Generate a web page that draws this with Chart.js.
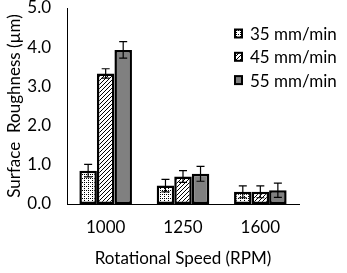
<!DOCTYPE html>
<html><head><meta charset="utf-8">
<script src="https://cdn.jsdelivr.net/npm/chart.js@4"></script>
<style>html,body{margin:0;padding:0;background:#fff}#wrap{width:347px;height:273px}</style>
</head><body><div id="wrap"><canvas id="c" width="347" height="273"></canvas></div>
<script>
const categories = ['1000', '1250', '1600'];
const seriesLabels = ['35 mm/min', '45 mm/min', '55 mm/min'];
const values35 = [0.85, 0.47, 0.31];
const values45 = [3.33, 0.70, 0.31];
const values55 = [3.93, 0.77, 0.35];
const errors35 = [0.16, 0.16, 0.15];
const errors45 = [0.12, 0.15, 0.15];
const errors55 = [0.21, 0.19, 0.18];
const yTicks = [0, 1, 2, 3, 4, 5];

function makePattern(kind) {
  const p = document.createElement('canvas');
  p.width = 4; p.height = 4;
  const g = p.getContext('2d');
  g.fillStyle = '#fff'; g.fillRect(0, 0, 4, 4);
  g.fillStyle = '#000';
  if (kind === 'dots') {
    g.fillRect(0, 0, 1, 1); g.fillRect(2, 2, 1, 1); g.fillRect(0, 2, 1, 1);
  } else {
    g.fillRect(3, 0, 1, 1); g.fillRect(2, 1, 1, 1); g.fillRect(1, 2, 1, 1); g.fillRect(0, 3, 1, 1);
  }
  return document.createElement('canvas').getContext('2d').createPattern(p, 'repeat');
}
const fills = [makePattern('dots'), makePattern('hatch'), '#808080'];
const errs = [errors35, errors45, errors55];
const FONT = 'Lato';
const FS = 17;

const errorBars = {
  id: 'errorBars',
  afterDatasetsDraw(chart) {
    const ctx = chart.ctx, y = chart.scales.y;
    ctx.save(); ctx.strokeStyle = '#000'; ctx.lineWidth = 1.2;
    chart.data.datasets.forEach((ds, di) => {
      chart.getDatasetMeta(di).data.forEach((bar, i) => {
        const v = ds.data[i], e = errs[di][i];
        const top = y.getPixelForValue(v + e), bot = y.getPixelForValue(v - e);
        const x = bar.x;
        ctx.beginPath();
        ctx.moveTo(x, top); ctx.lineTo(x, bot);
        ctx.moveTo(x - 4, top); ctx.lineTo(x + 4, top);
        ctx.moveTo(x - 4, bot); ctx.lineTo(x + 4, bot);
        ctx.stroke();
      });
    });
    ctx.restore();
  }
};
const customLegend = {
  id: 'customLegend',
  afterDraw(chart) {
    const ctx = chart.ctx;
    ctx.save();
    ctx.font = FS + 'px ' + FONT;
    ctx.textBaseline = 'middle';
    chart.data.datasets.forEach((ds, i) => {
      const cy = 33.5 + i * 23.3;
      ctx.fillStyle = fills[i];
      ctx.fillRect(235, cy - 4, 7, 8);
      ctx.strokeStyle = '#000'; ctx.lineWidth = 2;
      ctx.strokeRect(235, cy - 4, 7, 8);
      ctx.fillStyle = '#000';
      ctx.fillText(ds.label, 250, cy + 1);
    });
    ctx.restore();
  }
};

new Chart(document.getElementById('c'), {
  type: 'bar',
  data: {
    labels: categories,
    datasets: [values35, values45, values55].map((d, i) => ({
      label: seriesLabels[i], data: d, backgroundColor: fills[i],
      borderColor: '#000', borderWidth: 2.5, borderSkipped: false,
      barPercentage: 1, categoryPercentage: 0.68
    }))
  },
  options: {
    responsive: false, animation: false, devicePixelRatio: 1,
    layout: { padding: { top: 8, right: 48, left: 0, bottom: 0 } },
    plugins: { legend: { display: false }, tooltip: { enabled: false } },
    scales: {
      x: {
        grid: { display: false, drawTicks: false },
        border: { color: '#000', width: 1 },
        ticks: { color: '#000', font: { family: FONT, size: FS }, padding: 13 },
        title: { display: true, text: 'Rotational Speed (RPM)', color: '#000', font: { family: FONT, size: FS }, padding: { top: 6 } },
        afterFit(s) { s.height = 69; s.paddingLeft = 0; s.paddingRight = 0; }
      },
      y: {
        min: 0, max: 5,
        grid: { display: false, drawTicks: false },
        border: { color: '#000', width: 1 },
        afterBuildTicks(s) { s.ticks = yTicks.map(v => ({ value: v })); },
        ticks: { color: '#000', font: { family: FONT, size: FS }, padding: 16, callback: v => Number(v).toFixed(1) },
        title: { display: true, text: 'Surface  Roughness (µm)', color: '#000', font: { family: FONT, size: FS }, padding: { bottom: 0 } },
        afterFit(s) { s.width = 67; s.paddingTop = 0; s.paddingBottom = 0; }
      }
    }
  },
  plugins: [errorBars, customLegend]
});
</script></body></html>
